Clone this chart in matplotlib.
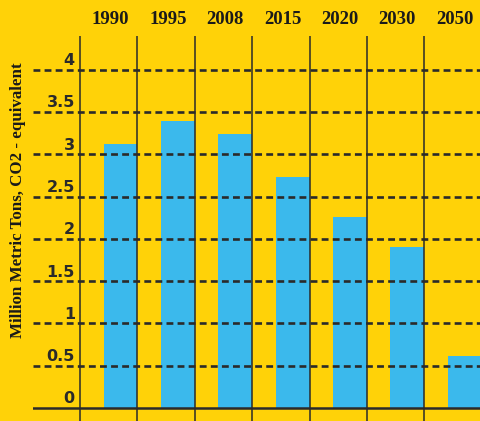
import matplotlib.pyplot as plt
import matplotlib.transforms as mtransforms

# data
years = ['1990', '1995', '2008', '2015', '2020', '2030', '2050']
emissions = [3.12, 3.40, 3.24, 2.73, 2.26, 1.90, 0.61]
y_ticks = [0, 0.5, 1, 1.5, 2, 2.5, 3, 3.5, 4]
y_tick_labels = ['0', '0.5', '1', '1.5', '2', '2.5', '3', '3.5', '4']

bg = '#FFD208'
bar_color = '#3BB9EC'
ink = '#2a2a2a'

fig = plt.figure(figsize=(4.8, 4.21), dpi=100, facecolor=bg)
# axes spans from x=33px to the right edge, y from 36px to the bottom
ax = fig.add_axes([33 / 480, 0, 447 / 480, 385 / 421])
ax.set_facecolor(bg)

x = list(range(len(years)))
bar_w = 0.59
ax.bar([i + 0.5 - bar_w / 2 for i in x], emissions, width=bar_w, color=bar_color, zorder=1)

# dashed gridlines
for v in y_ticks[1:]:
    ax.axhline(v, color=ink, lw=1.9, ls=(0, (2.6, 1.6)), zorder=3)
ax.axhline(0, color=ink, lw=1.8, zorder=3)

# category separators
for i in x:
    ax.axvline(i - 0.5, color=ink, lw=1.1, zorder=4)

ax.set_xlim(-1.319, 6.47)
ax.set_ylim(-0.154, 4.40)
ax.axis('off')

# tick labels sit just above their gridline
for v, lab in zip(y_ticks, y_tick_labels):
    ax.text(-0.59, v + 0.055, lab, ha='right', va='baseline',
            fontsize=11.5, fontweight='bold', color=ink, family='DejaVu Sans')

# year labels across the top
trans = mtransforms.blended_transform_factory(ax.transData, fig.transFigure)
for i, yr in zip(x, years):
    ax.text(i + 0.03, 1 - 19 / 421, yr, transform=trans, ha='center', va='center',
            fontsize=13.5, fontweight='bold', color='#1a1a1a', family='Liberation Serif')

fig.text(18 / 480, 1 - 200 / 421, 'Million Metric Tons, CO2 - equivalent', rotation=90,
         ha='center', va='center', fontsize=12.2, fontweight='bold', color='#1a1a1a',
         family='Liberation Serif')

fig.savefig('out.png', dpi=100, facecolor=bg)
